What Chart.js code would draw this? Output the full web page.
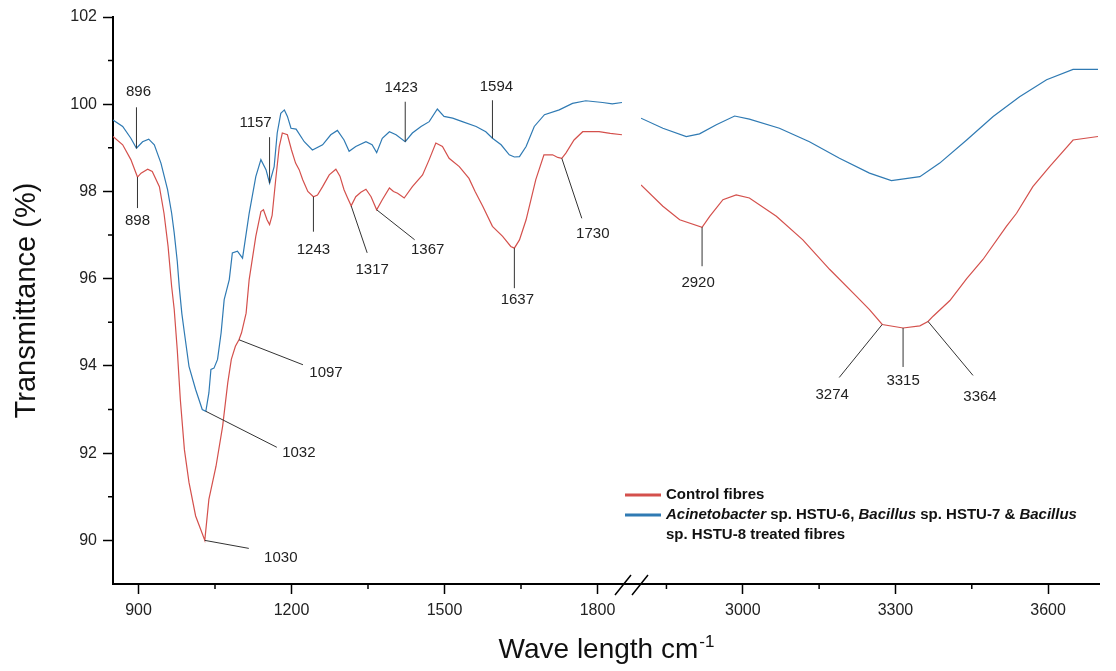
<!DOCTYPE html>
<html>
<head>
<meta charset="utf-8">
<script src="https://cdn.jsdelivr.net/npm/chart.js@4"></script>
<style>
  html, body { margin: 0; background: #fff; }
  #wrap { position: relative; width: 1116px; height: 671px; }
  #wrap canvas { position: absolute; left: 0; top: 0; }
</style>
</head>
<body>
<div id="wrap">
  <canvas id="leftPart" width="1116" height="671"></canvas>
  <canvas id="rightPart" width="1116" height="671"></canvas>
</div>
<script>
// FTIR spectra, transmittance (%) against wavenumber (cm-1)
// left part of the broken axis: 850-1850
const ctrlWaveL = [
  850, 869, 885, 898, 905, 918, 927, 941, 950, 958,
  965, 970, 976, 982, 990, 999, 1012, 1022, 1030, 1038,
  1052, 1065, 1075, 1082, 1090, 1097, 1102, 1111, 1117, 1130,
  1140, 1145, 1152, 1157, 1162, 1169, 1176, 1182, 1192, 1200,
  1208, 1215, 1222, 1232, 1243, 1251, 1261, 1274, 1287, 1295,
  1303, 1310, 1317, 1326, 1336, 1346, 1356, 1367, 1378, 1392,
  1400, 1408, 1421, 1437, 1457, 1470, 1483, 1496, 1509, 1529,
  1548, 1560, 1575, 1594, 1614, 1630, 1637, 1647, 1660, 1679,
  1695, 1712, 1722, 1730, 1738, 1754, 1771, 1803, 1825, 1848
];
const ctrlL = [
  99.26, 99.07, 98.73, 98.33, 98.42, 98.51, 98.46, 98.11, 97.50, 96.74,
  95.82, 95.30, 94.37, 93.23, 92.08, 91.33, 90.56, 90.25, 90.00, 90.94,
  91.70, 92.62, 93.61, 94.15, 94.45, 94.60, 94.76, 95.21, 95.98, 96.97,
  97.54, 97.58, 97.35, 97.24, 97.45, 98.27, 99.03, 99.34, 99.30, 98.95,
  98.65, 98.50, 98.27, 98.00, 97.88, 97.92, 98.11, 98.38, 98.51, 98.35,
  98.04, 97.85, 97.67, 97.88, 97.98, 98.05, 97.88, 97.58, 97.81, 98.08,
  98.00, 97.96, 97.85, 98.11, 98.38, 98.73, 99.11, 99.03, 98.76, 98.57,
  98.30, 98.00, 97.66, 97.20, 96.97, 96.74, 96.70, 96.89, 97.35, 98.27,
  98.84, 98.84, 98.78, 98.76, 98.88, 99.18, 99.37, 99.37, 99.33, 99.30
];
const trtWaveL = [
  850, 869, 885, 896, 908, 920, 931, 944, 957, 965,
  970, 976, 980, 985, 990, 999, 1012, 1025, 1032, 1038,
  1042, 1048, 1055, 1062, 1068, 1078, 1084, 1094, 1104, 1117,
  1130, 1140, 1150, 1157, 1166, 1172, 1179, 1186, 1192, 1199,
  1209, 1225, 1241, 1261, 1277, 1290, 1303, 1313, 1326, 1346,
  1358, 1367, 1378, 1392, 1405, 1423, 1437, 1454, 1470, 1486,
  1499, 1516, 1535, 1562, 1581, 1594, 1611, 1627, 1637, 1647,
  1660, 1676, 1696, 1725, 1751, 1777, 1810, 1829, 1848
];
const trtL = [
  99.64, 99.49, 99.22, 98.99, 99.14, 99.20, 99.07, 98.65, 98.04, 97.50,
  97.05, 96.40, 95.80, 95.20, 94.76, 93.99, 93.46, 93.00, 92.96, 93.38,
  93.92, 93.95, 94.15, 94.76, 95.52, 95.98, 96.59, 96.63, 96.47, 97.50,
  98.34, 98.73, 98.50, 98.19, 98.57, 99.34, 99.79, 99.87, 99.72, 99.45,
  99.43, 99.14, 98.95, 99.07, 99.30, 99.40, 99.18, 98.92, 99.03, 99.14,
  99.07, 98.89, 99.22, 99.37, 99.30, 99.14, 99.34, 99.49, 99.60, 99.89,
  99.72, 99.68, 99.60, 99.49, 99.37, 99.22, 99.07, 98.84, 98.79, 98.80,
  99.03, 99.49, 99.76, 99.87, 100.02, 100.08, 100.04, 100.01, 100.04
];
// right part of the broken axis: 2800-3700
const ctrlWaveR = [2800, 2843, 2876, 2920, 2935, 2961, 2987, 3013, 3066, 3118, 3171, 3223, 3249, 3274,
  3315, 3348, 3364, 3374, 3407, 3440, 3472, 3518, 3538, 3570, 3603, 3649, 3698];
const ctrlR = [98.15, 97.66, 97.35, 97.18, 97.43, 97.81, 97.92, 97.85, 97.43, 96.89, 96.21, 95.60, 95.29, 94.95,
  94.87, 94.92, 95.02, 95.14, 95.50, 96.00, 96.44, 97.20, 97.50, 98.11, 98.57, 99.18, 99.26];
const trtWaveR = [2800, 2843, 2889, 2915, 2948, 2984, 3013, 3072, 3131, 3190, 3249, 3292, 3348, 3387,
  3440, 3492, 3544, 3597, 3649, 3698];
const trtR = [99.68, 99.45, 99.26, 99.32, 99.53, 99.73, 99.66, 99.45, 99.14, 98.76, 98.42, 98.25, 98.34, 98.65,
  99.18, 99.72, 100.17, 100.56, 100.80, 100.80];

const yTicks = [90, 92, 94, 96, 98, 100, 102];
const yMinor = [91, 93, 95, 97, 99, 101];
const xTicksL = [900, 1200, 1500, 1800];
const xMinorL = [1050, 1350, 1650];
const xTicksR = [3000, 3300, 3600];
const xMinorR = [2850, 3150, 3450];

const seriesNames = ['Control fibres',
  'Acinetobacter sp. HSTU-6, Bacillus sp. HSTU-7 & Bacillus sp. HSTU-8 treated fibres'];

// peak labels: [wavenumber, dataset, leader dx, leader dy, text dx, text dy]
const peaksL = [
  [896, 1, 0, -41, 2, -56], [898, 0, 0, 31, 0, 44],
  [1157, 1, 0, -46, -14, -60], [1243, 0, 0, 35, 0, 53],
  [1317, 0, 16, 47, 21, 64], [1367, 0, 38, 30, 51, 40],
  [1423, 1, 0, -40, -4, -54], [1594, 1, 0, -38, 4, -51],
  [1637, 0, 0, 40, 3, 52], [1730, 0, 20, 60, 31, 76],
  [1097, 0, 64, 25, 87, 33], [1032, 1, 71, 36, 93, 42],
  [1030, 0, 44, 8, 76, 17]
];
const peaksR = [
  [2920, 0, 0, 39, -4, 56], [3274, 0, -43, 53, -50, 70],
  [3315, 0, 0, 39, 0, 53], [3364, 0, 45, 54, 52, 75]
];

const RED = '#d4504c', BLUE = '#2f7ab3';
const FONT = '"Liberation Sans", Arial, sans-serif';
Chart.defaults.font.family = FONT;
Chart.defaults.color = '#222';

const pts = (xs, ys) => xs.map((x, i) => ({ x: x, y: ys[i] }));

function minorTicks(xs, ys) {
  return {
    id: 'minorTicks',
    afterDraw(chart) {
      const { ctx, chartArea: a, scales } = chart;
      ctx.save();
      ctx.strokeStyle = '#000';
      ctx.lineWidth = 1.5;
      ctx.beginPath();
      xs.forEach(v => {
        const p = scales.x.getPixelForValue(v);
        ctx.moveTo(p, a.bottom); ctx.lineTo(p, a.bottom + 5);
      });
      ys.forEach(v => {
        const p = scales.y.getPixelForValue(v);
        ctx.moveTo(a.left - 5, p); ctx.lineTo(a.left, p);
      });
      ctx.stroke();
      ctx.restore();
    }
  };
}

function peakLabels(list) {
  return {
    id: 'peakLabels',
    afterDatasetsDraw(chart) {
      const { ctx, scales } = chart;
      ctx.save();
      ctx.strokeStyle = '#333';
      ctx.lineWidth = 1;
      ctx.fillStyle = '#222';
      ctx.font = '15px ' + FONT;
      ctx.textAlign = 'center';
      ctx.textBaseline = 'middle';
      list.forEach(([wave, ds, lx, ly, tx, ty]) => {
        const pt = chart.data.datasets[ds].data.find(p => p.x === wave);
        const x = scales.x.getPixelForValue(pt.x);
        const y = scales.y.getPixelForValue(pt.y);
        ctx.beginPath();
        ctx.moveTo(x, y);
        ctx.lineTo(x + lx, y + ly);
        ctx.stroke();
        ctx.fillText(String(wave), x + tx, y + ty);
      });
      ctx.restore();
    }
  };
}

// axis break, x title and the legend with italic genus names
const extras = {
  id: 'extras',
  afterDraw(chart) {
    const { ctx } = chart;
    const left = leftChart.chartArea;
    const a = chart.chartArea;
    ctx.save();
    ctx.strokeStyle = '#000';
    ctx.lineWidth = 2;
    ctx.beginPath();
    ctx.moveTo(left.right, a.bottom); ctx.lineTo(a.left, a.bottom);
    ctx.stroke();
    ctx.lineWidth = 1.5;
    ctx.beginPath();
    ctx.moveTo(615, a.bottom + 11); ctx.lineTo(631, a.bottom - 9);
    ctx.moveTo(632, a.bottom + 11); ctx.lineTo(648, a.bottom - 9);
    ctx.stroke();

    // x title with superscript
    ctx.fillStyle = '#111';
    ctx.textBaseline = 'alphabetic';
    ctx.textAlign = 'left';
    const main = 'Wave length cm', sup = '-1';
    ctx.font = '28px ' + FONT;
    const wMain = ctx.measureText(main).width;
    ctx.font = '17px ' + FONT;
    const wSup = ctx.measureText(sup).width;
    const cx = (left.left + a.right) / 2;
    const x0 = cx - (wMain + wSup) / 2;
    ctx.font = '28px ' + FONT;
    ctx.fillText(main, x0, 658);
    ctx.font = '17px ' + FONT;
    ctx.fillText(sup, x0 + wMain + 1, 647);

    // legend
    const rows = [
      { color: RED, lines: [[[seriesNames[0], false]]] },
      { color: BLUE, lines: [
        [['Acinetobacter', true], [' sp. HSTU-6, ', false], ['Bacillus', true], [' sp. HSTU-7 & ', false], ['Bacillus', true]],
        [['sp. HSTU-8 treated fibres', false]]
      ] }
    ];
    let y = 495;
    ctx.textBaseline = 'middle';
    rows.forEach(r => {
      ctx.strokeStyle = r.color;
      ctx.lineWidth = 3;
      ctx.beginPath();
      ctx.moveTo(625, y); ctx.lineTo(661, y);
      ctx.stroke();
      r.lines.forEach(line => {
        let x = 666;
        line.forEach(([txt, it]) => {
          ctx.font = (it ? 'italic ' : '') + 'bold 15px ' + FONT;
          ctx.fillText(txt, x, y);
          x += ctx.measureText(txt).width;
        });
        y += 20;
      });
    });
    ctx.restore();
  }
};

function xAxis(min, max, ticks) {
  return {
    type: 'linear', min: min, max: max,
    afterBuildTicks: s => { s.ticks = ticks.map(v => ({ value: v })); },
    afterFit: s => { s.height = 87; },
    grid: { drawOnChartArea: false, tickLength: 10, tickColor: '#000', tickWidth: 1.5 },
    border: { color: '#000', width: 2 },
    ticks: { font: { size: 16 }, color: '#222', padding: 7, maxRotation: 0, autoSkip: false,
      callback: v => String(v) }
  };
}

function lineSet(label, data, color) {
  return { label: label, data: data, borderColor: color, backgroundColor: color,
    borderWidth: 1.2, pointRadius: 0, tension: 0, fill: false };
}

const commonPlugins = { legend: { display: false }, tooltip: { enabled: false } };

const leftChart = new Chart(document.getElementById('leftPart'), {
  type: 'line',
  data: { datasets: [
    lineSet(seriesNames[0], pts(ctrlWaveL, ctrlL), RED),
    lineSet(seriesNames[1], pts(trtWaveL, trtL), BLUE)
  ] },
  options: {
    responsive: false, animation: false, events: [],
    layout: { padding: { left: 0, right: 1116 - 623, top: 17, bottom: 0 } },
    plugins: commonPlugins,
    scales: {
      x: xAxis(850, 1850, xTicksL),
      y: {
        min: 89, max: 102,
        afterBuildTicks: s => { s.ticks = yTicks.map(v => ({ value: v })); },
        afterFit: s => { s.width = 113; },
        grid: { drawOnChartArea: false, tickLength: 10, tickColor: '#000', tickWidth: 1.5 },
        border: { color: '#000', width: 2 },
        ticks: { font: { size: 16 }, color: '#222', padding: 6, callback: v => String(v) },
        title: { display: true, text: 'Transmittance (%)', color: '#111',
          font: { size: 29, lineHeight: 1 }, padding: { top: 12, bottom: 0 } }
      }
    }
  },
  plugins: [minorTicks(xMinorL, yMinor), peakLabels(peaksL)]
});

new Chart(document.getElementById('rightPart'), {
  type: 'line',
  data: { datasets: [
    lineSet(seriesNames[0], pts(ctrlWaveR, ctrlR), RED),
    lineSet(seriesNames[1], pts(trtWaveR, trtR), BLUE)
  ] },
  options: {
    responsive: false, animation: false, events: [],
    layout: { padding: { left: 641, right: 1116 - 1099, top: 17, bottom: 0 } },
    plugins: commonPlugins,
    scales: {
      x: xAxis(2800, 3700, xTicksR),
      y: { display: false, min: 89, max: 102 }
    }
  },
  plugins: [minorTicks(xMinorR, []), peakLabels(peaksR), extras]
});
</script>
</body>
</html>
